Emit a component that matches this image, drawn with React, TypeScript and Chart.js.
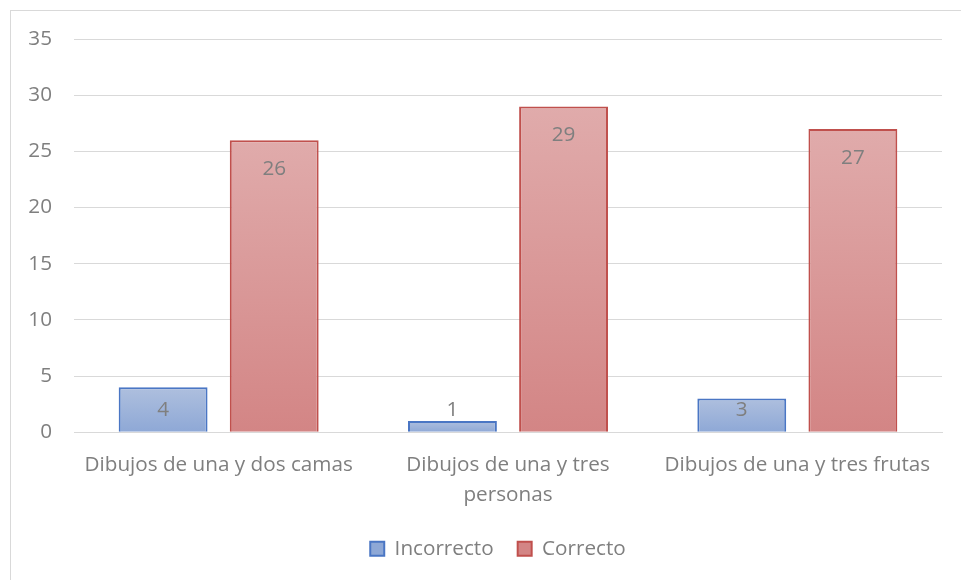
import React, { useEffect, useRef } from "react";
import { Chart, registerables } from "chart.js";

Chart.register(...registerables);

const categories: (string | string[])[] = [
  "Dibujos de una y dos camas",
  ["Dibujos de una y tres", "personas"],
  "Dibujos de una y tres frutas",
];
const seriesNames = ["Incorrecto", "Correcto"];
const incorrecto = [4, 1, 3];
const correcto = [26, 29, 27];
const yMax = 35;
const yStep = 5;

const FONT = "'Open Sans', 'Noto Sans', sans-serif";
const FS = 20.7;
const TEXT = "#7f7f7f";
const GRID = "#d9d9d9";

function gradientFill(top: string, bottom: string, solid: string) {
  return (c: any) => {
    const chart = c.chart;
    const y = chart.scales && chart.scales.y;
    if (c.type !== "data" || !y) return solid;
    const t = y.getPixelForValue(c.raw);
    const b = y.getPixelForValue(0);
    if (!isFinite(t) || !isFinite(b) || t === b) return solid;
    const g = chart.ctx.createLinearGradient(0, t, 0, b);
    g.addColorStop(0, top);
    g.addColorStop(1, bottom);
    return g;
  };
}

const framePlugin = {
  id: "frame",
  afterLayout(chart: any) {
    if (chart.legend) chart.legend.left = 54;
  },
  beforeDraw(chart: any) {
    const ctx = chart.ctx;
    ctx.save();
    ctx.fillStyle = "#ffffff";
    ctx.fillRect(0, 0, chart.width, chart.height);
    ctx.strokeStyle = GRID;
    ctx.lineWidth = 1;
    ctx.strokeRect(10.5, 10.5, chart.width + 20, chart.height + 20);
    ctx.restore();
  },
};

const labelPlugin = {
  id: "barLabels",
  afterDatasetsDraw(chart: any) {
    const ctx = chart.ctx;
    ctx.save();
    ctx.font = `${FS}px ${FONT}`;
    ctx.fillStyle = TEXT;
    ctx.textAlign = "center";
    ctx.textBaseline = "middle";
    chart.data.datasets.forEach((ds: any, i: number) => {
      const meta = chart.getDatasetMeta(i);
      meta.data.forEach((el: any, j: number) => {
        const y = Math.min(el.y + 29, el.base - 22);
        ctx.fillText(String(ds.data[j]), el.x, y);
      });
    });
    ctx.restore();
  },
};

export default function App() {
  const ref = useRef<HTMLCanvasElement | null>(null);
  useEffect(() => {
    if (!ref.current) return;
    const chart = new Chart(ref.current, {
      type: "bar",
      data: {
        labels: categories,
        datasets: [
          {
            label: seriesNames[0],
            data: incorrecto,
            backgroundColor: gradientFill("#aebfde", "#8ea8d6", "#a6b9dc"),
            borderColor: "#4a76c4",
            borderWidth: 2,
          },
          {
            label: seriesNames[1],
            data: correcto,
            backgroundColor: gradientFill("#e0abab", "#d38585", "#d9a0a0"),
            borderColor: "#c0504d",
            borderWidth: 2,
          },
        ],
      },
      options: {
        responsive: false,
        animation: false,
        devicePixelRatio: 1,
        layout: { padding: { left: 0, right: 19, top: 39, bottom: 11 } },
        datasets: {
          bar: { categoryPercentage: 0.768, barPercentage: 0.8 },
        },
        scales: {
          x: {
            grid: { display: false, drawTicks: false },
            border: { color: GRID, width: 1 },
            ticks: {
              color: TEXT,
              font: { family: FONT, size: FS, lineHeight: 1.45 },
              padding: 18,
              maxRotation: 0,
              autoSkip: false,
            },
            afterFit: (s: any) => {
              s.height = 82;
            },
          },
          y: {
            min: 0,
            max: yMax,
            grid: { color: GRID, drawTicks: false },
            border: { display: false },
            ticks: {
              stepSize: yStep,
              color: TEXT,
              font: { family: FONT, size: FS },
              padding: 22,
            },
            afterFit: (s: any) => {
              s.width = 74;
            },
          },
        },
        plugins: {
          legend: {
            position: "bottom",
            labels: {
              color: TEXT,
              font: { family: FONT, size: FS },
              boxWidth: 14,
              boxHeight: 14,
              padding: 24,
            },
          },
          tooltip: { enabled: false },
        },
      },
      plugins: [framePlugin, labelPlugin],
    });
    return () => chart.destroy();
  }, []);
  return (
    <canvas
      ref={ref}
      width={961}
      height={580}
      style={{ position: "fixed", left: 0, top: 0, width: 961, height: 580 }}
    />
  );
}
